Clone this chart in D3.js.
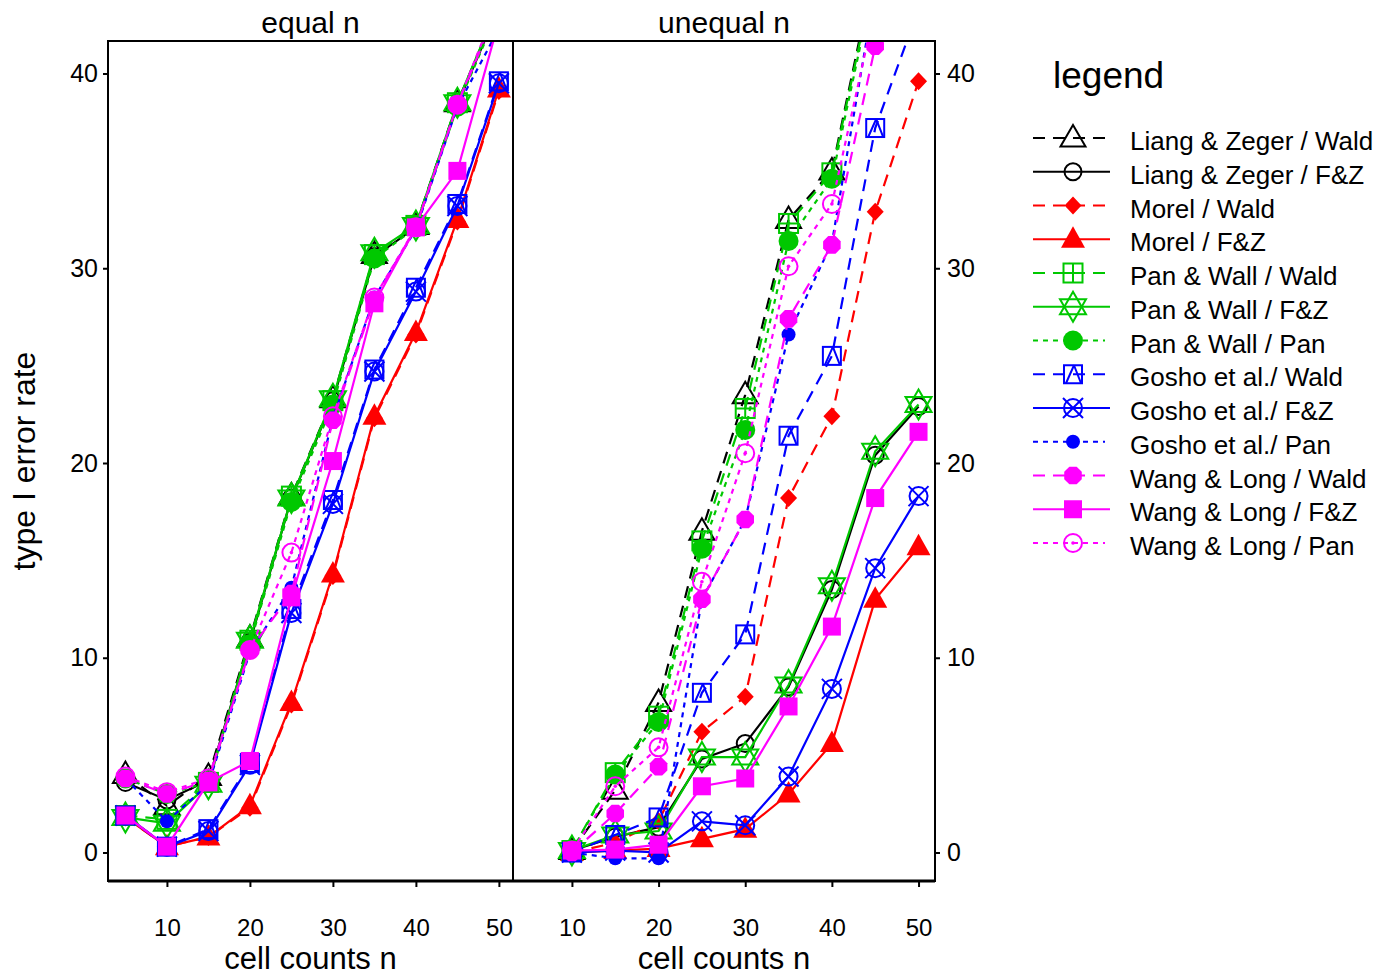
<!DOCTYPE html>
<html><head><meta charset="utf-8">
<script src="https://cdn.jsdelivr.net/npm/d3@7"></script>
<style>
body{margin:0;background:#fff}
text{font-family:"Liberation Sans",Arial,Helvetica,sans-serif;fill:#000}
</style>
</head><body>
<svg id="chart" width="1391" height="976"></svg>
<script>
// ---------- data ----------
const xEqual   = [5, 10, 15, 20, 25, 30, 35, 40, 45, 50];
const xUnequal = [10, 15, 20, 25, 30, 35, 40, 45, 50];
const yTicks = [0, 10, 20, 30, 40];
const xTicks = [10, 20, 30, 40, 50];

const seriesNames = [
  "Liang & Zeger / Wald", "Liang & Zeger / F&Z", "Morel / Wald", "Morel / F&Z",
  "Pan & Wall / Wald", "Pan & Wall / F&Z", "Pan & Wall / Pan",
  "Gosho et al./ Wald", "Gosho et al./ F&Z", "Gosho et al./ Pan",
  "Wang & Long / Wald", "Wang & Long / F&Z", "Wang & Long / Pan"
];

// equal n
const eqLZWald    = [4.0, 2.4, 3.9, 11.0, 18.3, 23.3, 30.7, 32.2, 38.5, 43.5];
const eqLZFZ      = [3.6, 2.7, 3.7, 10.8, 18.2, 23.2, 30.6, 32.1, 38.4, 43.4];
const eqMorelWald = [1.8, 0.3, 0.8, 2.3, 7.6, 14.2, 22.3, 26.6, 32.4, 39.1];
const eqMorelFZ   = [1.8, 0.3, 0.8, 2.4, 7.7, 14.3, 22.4, 26.7, 32.5, 39.2];
const eqPWWald    = [1.9, 1.7, 3.6, 10.9, 18.3, 23.2, 30.7, 32.2, 38.5, 43.5];
const eqPWFZ      = [1.8, 1.5, 3.5, 10.9, 18.2, 23.3, 30.8, 32.2, 38.5, 43.6];
const eqPWPan     = [3.8, 3.0, 3.6, 10.7, 18.0, 23.0, 30.5, 32.1, 38.3, 43.3];
const eqGoshoWald = [1.9, 0.3, 1.2, 4.6, 12.5, 18.1, 24.8, 29.0, 33.3, 39.6];
const eqGoshoFZ   = [1.9, 0.3, 1.1, 4.5, 12.3, 17.9, 24.7, 28.8, 33.2, 39.5];
const eqGoshoPan  = [3.8, 1.6, 3.5, 10.3, 13.6, 22.3, 28.5, 32.0, 38.3, 42.3];
const eqWangWald  = [3.8, 3.0, 3.7, 10.4, 13.3, 22.2, 28.4, 32.1, 38.4, 43.5];
const eqWangFZ    = [1.9, 0.3, 3.6, 4.7, 13.1, 20.1, 28.2, 32.1, 35.0, 42.7];
const eqWangPan   = [3.9, 3.1, 3.8, 10.4, 15.4, 22.4, 28.5, 32.1, 38.4, 43.8];

// unequal n
const unLZWald    = [0.1, 3.2, 7.7, 16.5, 23.5, 32.5, 35.0, 45.6, 54.0];
const unLZFZ      = [0.1, 0.8, 1.3, 4.8, 5.6, 8.5, 13.5, 20.4, 22.9];
const unMorelWald = [0.0, 0.5, 1.6, 6.2, 8.0, 18.2, 22.4, 32.9, 39.6];
const unMorelFZ   = [0.0, 0.1, 0.2, 0.7, 1.2, 3.0, 5.6, 13.0, 15.7];
const unPWWald    = [0.1, 4.1, 7.0, 16.0, 22.8, 32.3, 34.9, 45.3, 53.5];
const unPWFZ      = [0.1, 0.9, 1.1, 4.9, 4.9, 8.6, 13.7, 20.6, 23.0];
const unPWPan     = [0.1, 4.0, 6.7, 15.6, 21.7, 31.4, 34.6, 45.0, 53.0];
const unGoshoWald = [0.0, 0.9, 1.8, 8.2, 11.2, 21.4, 25.5, 37.2, 43.3];
const unGoshoFZ   = [0.0, 0.1, 0.0, 1.6, 1.4, 3.9, 8.4, 14.6, 18.3];
const unGoshoPan  = [0.0, -0.3, -0.3, 13.0, 17.1, 26.6, 31.3, 44.3, 50.0];
const unWangWald  = [0.0, 2.0, 4.4, 13.0, 17.1, 27.4, 31.2, 41.4, 48.0];
const unWangFZ    = [0.1, 0.15, 0.4, 3.4, 3.8, 7.5, 11.6, 18.2, 21.6];
const unWangPan   = [0.1, 3.4, 5.4, 13.9, 20.5, 30.1, 33.3, 43.4, 50.0];

const equalValues = [eqLZWald, eqLZFZ, eqMorelWald, eqMorelFZ, eqPWWald, eqPWFZ, eqPWPan,
  eqGoshoWald, eqGoshoFZ, eqGoshoPan, eqWangWald, eqWangFZ, eqWangPan];
const unequalValues = [unLZWald, unLZFZ, unMorelWald, unMorelFZ, unPWWald, unPWFZ, unPWPan,
  unGoshoWald, unGoshoFZ, unGoshoPan, unWangWald, unWangFZ, unWangPan];

// ---------- styles ----------
const GREEN = "#00c800", RED = "#ff0000", BLUE = "#0000ff", MAG = "#ff00ff", BLK = "#000000";
const styles = [
  {color: BLK, dash: "dash", marker: "triOpen"},
  {color: BLK, dash: "solid", marker: "circleOpen"},
  {color: RED, dash: "dash", marker: "diamond"},
  {color: RED, dash: "solid", marker: "triFilled"},
  {color: GREEN, dash: "dash", marker: "squarePlus"},
  {color: GREEN, dash: "solid", marker: "star"},
  {color: GREEN, dash: "dot", marker: "circleFilled"},
  {color: BLUE, dash: "dash", marker: "squareTri"},
  {color: BLUE, dash: "solid", marker: "circleX"},
  {color: BLUE, dash: "dot", marker: "dot"},
  {color: MAG, dash: "dash", marker: "octFilled"},
  {color: MAG, dash: "solid", marker: "squareFilled"},
  {color: MAG, dash: "dot", marker: "circleDot"}
];
const dashArr = {solid: null, dash: "12,8", dot: "5,5"};

function drawMarker(g, type, color) {
  const sw = 2;
  const open = (s) => s.attr("fill", "none").attr("stroke", color).attr("stroke-width", sw);
  const fill = (s) => s.attr("fill", color).attr("stroke", "none");
  switch (type) {
    case "triOpen": open(g.append("path").attr("d", "M0,-13L12.5,8.5L-12.5,8.5Z")); break;
    case "circleOpen": open(g.append("circle").attr("r", 8.5)); break;
    case "diamond": fill(g.append("path").attr("d", "M0,-9L8.5,0L0,9L-8.5,0Z")); break;
    case "triFilled": fill(g.append("path").attr("d", "M0,-13L12,8.5L-12,8.5Z")); break;
    case "squarePlus":
      open(g.append("rect").attr("x", -9.5).attr("y", -9.5).attr("width", 19).attr("height", 19));
      open(g.append("path").attr("d", "M0,-9.5V9.5M-9.5,0H9.5")); break;
    case "star":
      open(g.append("path").attr("d", "M0,-15L13,7.5L-13,7.5Z"));
      open(g.append("path").attr("d", "M0,15L13,-7.5L-13,-7.5Z")); break;
    case "circleFilled": fill(g.append("circle").attr("r", 10)); break;
    case "squareTri":
      open(g.append("rect").attr("x", -9).attr("y", -9).attr("width", 18).attr("height", 18));
      open(g.append("path").attr("d", "M1,-9L8,9M1,-9L-7,9")); break;
    case "circleX":
      open(g.append("circle").attr("r", 9));
      open(g.append("path").attr("d", "M-10,-10L10,10M10,-10L-10,10")); break;
    case "dot": fill(g.append("circle").attr("r", 7)); break;
    case "octFilled": {
      const pts = d3.range(8).map(k => {
        const a = Math.PI / 8 + k * Math.PI / 4;
        return [9.5 * Math.cos(a), 9.5 * Math.sin(a)];
      });
      fill(g.append("path").attr("d", "M" + pts.map(p => p.join(",")).join("L") + "Z"));
      break;
    }
    case "squareFilled": fill(g.append("rect").attr("x", -9).attr("y", -9).attr("width", 18).attr("height", 18)); break;
    case "circleDot":
      open(g.append("circle").attr("r", 9));
      fill(g.append("circle").attr("r", 1.8)); break;
  }
}

// ---------- layout ----------
const svg = d3.select("#chart");
const TOP = 41, BOT = 881;
const y = d3.scaleLinear().domain([0, 40]).range([852.5, 73.5]);

const panels = [
  {title: "equal n", xs: xEqual, vals: equalValues, x0: 108, x1: 513, dom: [2.9, 51.7], side: "left"},
  {title: "unequal n", xs: xUnequal, vals: unequalValues, x0: 513, x1: 935, dom: [3.2, 51.9], side: "right"}
];

panels.forEach((p, pi) => {
  const x = d3.scaleLinear().domain(p.dom).range([p.x0, p.x1]);
  const clipId = "clip" + pi;
  svg.append("clipPath").attr("id", clipId)
    .append("rect").attr("x", p.x0).attr("y", TOP).attr("width", p.x1 - p.x0).attr("height", BOT - TOP);

  const plot = svg.append("g").attr("clip-path", `url(#${clipId})`);
  const line = d3.line().x(d => x(d[0])).y(d => y(d[1]));

  p.vals.forEach((vals, si) => {
    const st = styles[si];
    const pts = p.xs.map((xv, i) => [xv, vals[i]]);
    plot.append("path").datum(pts).attr("d", line)
      .attr("fill", "none").attr("stroke", st.color).attr("stroke-width", 2.2)
      .attr("stroke-dasharray", dashArr[st.dash]);
    pts.forEach(d => {
      const g = plot.append("g").attr("transform", `translate(${x(d[0])},${y(d[1])})`);
      drawMarker(g, st.marker, st.color);
    });
  });

  // x axis
  const xa = svg.append("g").attr("transform", `translate(0,${BOT})`)
    .call(d3.axisBottom(x).tickValues(xTicks).tickSize(6).tickPadding(32).tickFormat(d3.format("d")));
  xa.select(".domain").remove();
  xa.selectAll("line").attr("stroke", "#000").attr("stroke-width", 2);
  xa.selectAll("text").attr("font-size", 24).attr("font-family", '"Liberation Sans",Arial,sans-serif');

  // y axis
  let ya;
  if (p.side === "left") {
    ya = svg.append("g").attr("transform", `translate(${p.x0},0)`)
      .call(d3.axisLeft(y).tickValues(yTicks).tickSize(5).tickPadding(5));
  } else {
    ya = svg.append("g").attr("transform", `translate(${p.x1},0)`)
      .call(d3.axisRight(y).tickValues(yTicks).tickSize(5).tickPadding(7));
  }
  ya.select(".domain").remove();
  ya.selectAll("line").attr("stroke", "#000").attr("stroke-width", 2);
  ya.selectAll("text").attr("font-size", 25).attr("font-family", '"Liberation Sans",Arial,sans-serif');

  // titles
  svg.append("text").attr("x", (p.x0 + p.x1) / 2).attr("y", 33)
    .attr("text-anchor", "middle").attr("font-size", 30).text(p.title);
  svg.append("text").attr("x", (p.x0 + p.x1) / 2).attr("y", 969)
    .attr("text-anchor", "middle").attr("font-size", 31).text("cell counts n");
});

// frame
const fr = svg.append("g").attr("fill", "none").attr("stroke", "#000");
fr.append("rect").attr("x", 108).attr("y", TOP).attr("width", 935 - 108).attr("height", BOT - TOP).attr("stroke-width", 2);
fr.append("line").attr("x1", 513).attr("x2", 513).attr("y1", TOP).attr("y2", BOT).attr("stroke-width", 2);
fr.append("line").attr("x1", 108).attr("x2", 935).attr("y1", BOT).attr("y2", BOT).attr("stroke-width", 3);

// y label
svg.append("text").attr("transform", "translate(35,461) rotate(-90)")
  .attr("text-anchor", "middle").attr("font-size", 32).text("type I error rate");

// legend
const lg = svg.append("g");
lg.append("text").attr("x", 1053).attr("y", 88).attr("font-size", 37).text("legend");
seriesNames.forEach((name, i) => {
  const st = styles[i];
  const ry = 138 + i * 33.75;
  const xEnd = st.dash === "solid" ? 1110 : 1105;
  lg.append("line").attr("x1", 1033).attr("x2", xEnd).attr("y1", ry).attr("y2", ry)
    .attr("stroke", st.color).attr("stroke-width", 2.2).attr("stroke-dasharray", dashArr[st.dash]);
  drawMarker(lg.append("g").attr("transform", `translate(1073,${ry})`), st.marker, st.color);
  lg.append("text").attr("x", 1130).attr("y", ry + 12).attr("font-size", 26).text(name);
});
</script>
</body></html>
